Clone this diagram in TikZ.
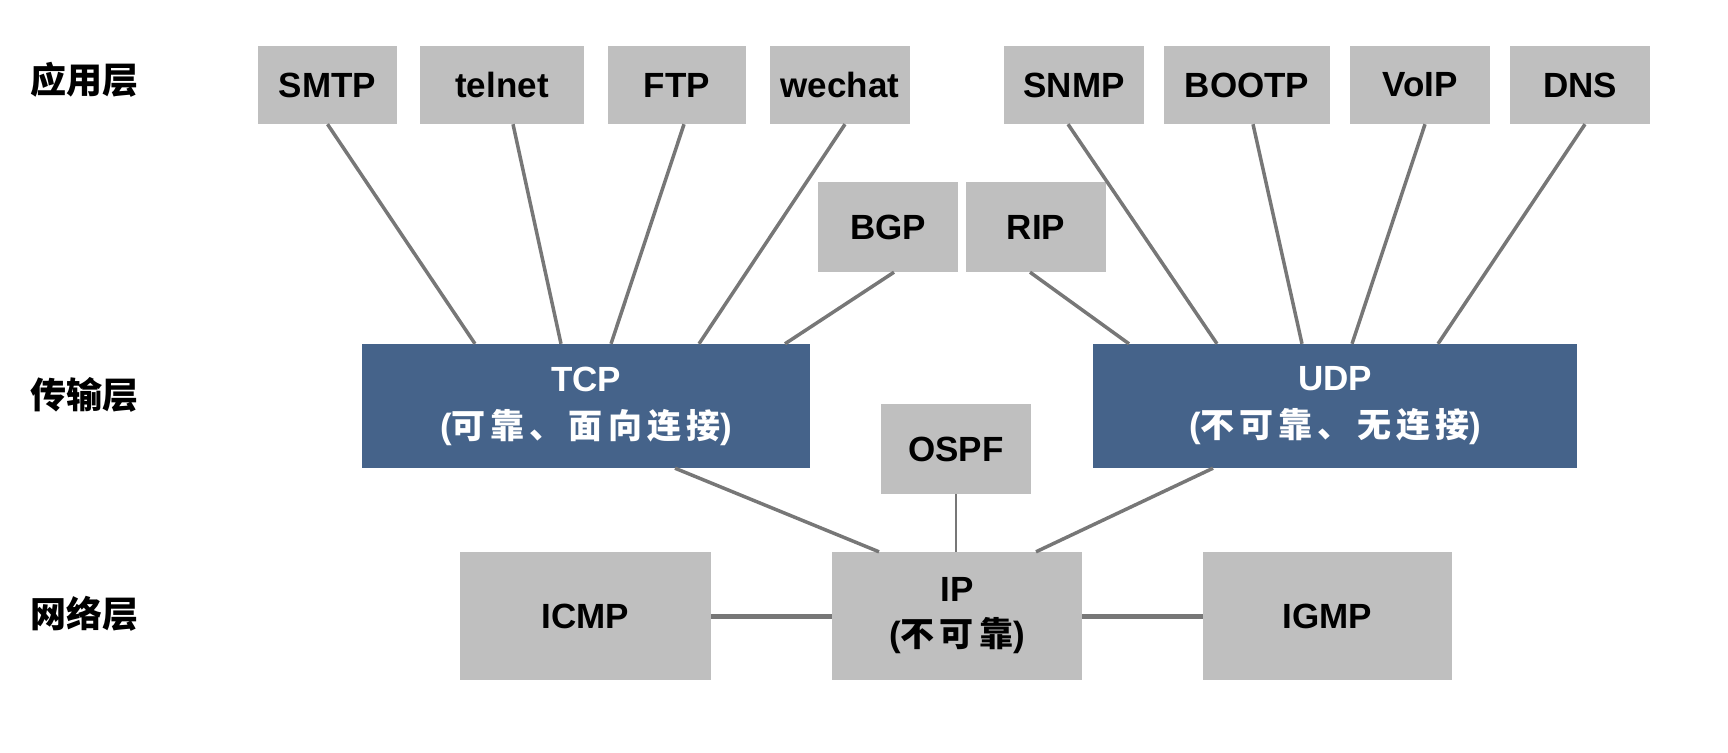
\documentclass[tikz,border=0pt]{standalone}
\usepackage{fontspec}
\setmainfont{Liberation Sans}
\newfontfamily\cjk[LetterSpace=15]{Noto Sans CJK SC}
\newfontfamily\cjkhead{Noto Sans CJK SC}
\usetikzlibrary{calc}
\definecolor{boxgray}{HTML}{BFBFBF}
\definecolor{tcpblue}{HTML}{45638A}
\definecolor{linegray}{HTML}{777777}
\newcommand\cn[1]{{\cjk\fontsize{34}{47}\selectfont #1}}
\tikzset{
	proto/.style={fill=boxgray, minimum width=140, minimum height=78, inner sep=0pt, align=center, font=\bfseries\fontsize{35}{47}\selectfont},
	trans/.style={proto, fill=tcpblue, text=white, minimum height=124},
	layer/.style={font=\cjkhead\bfseries\fontsize{36}{40}\selectfont},
	link/.style={draw=linegray, line width=3.5pt},
}

\begin{document}
\begin{tikzpicture}[x=1pt,y=-1pt]
	\useasboundingbox (0,0) rectangle (1728,752);
	% layers
	\node[layer] (app) at (84,80) {应用层};
	\node[layer] (trp) at (84,395) {传输层};
	\node[layer] (net) at (84,614) {网络层};
	% application
	\node[proto, minimum width=139] (SMTP) at (327.5,85) {SMTP};
	\node[proto, minimum width=164] (telnet) at (502,85) {telnet};
	\node[proto, minimum width=138] (FTP) at (677,85) {FTP};
	\node[proto] (wechat) at (840,85) {wechat};
	\node[proto] (SNMP) at (1074,85) {SNMP};
	\node[proto, minimum width=166] (BOOTP) at (1247,85) {BOOTP};
	\node[proto] (VoIP) at (1420,85) {VoIP};
	\node[proto] (DNS) at (1580,85) {DNS};
	\node[proto, minimum height=90] (BGP) at (888,227) {BGP};
	\node[proto, minimum height=90] (RIP) at (1036,227) {RIP};
	% transport
	\node[trans, minimum width=448] (TCP) at (586,406) {TCP\\(\cn{可靠、面向连接})};
	\node[trans, minimum width=484] (UDP) at (1335,406) {UDP\\(\cn{不可靠、无连接})};
	\node[proto, minimum width=150, minimum height=90] (OSPF) at (956,449) {OSPF};
	% network
	\node[proto, minimum width=251, minimum height=128] (ICMP) at (585.5,616) {ICMP};
	\node[proto, minimum width=250, minimum height=128] (IP) at (957,616) {IP\\[-2pt](\cn{不可靠})};
	\node[proto, minimum width=249, minimum height=128] (IGMP) at (1327.5,616) {IGMP};
	% links
	\draw[link] (SMTP.south) -- ($(TCP.north)+(-111,0)$);
	\draw[link] ($(telnet.south)+(11,0)$) -- ($(TCP.north)+(-25,0)$);
	\draw[link] ($(FTP.south)+(7,0)$) -- ($(TCP.north)+(25,0)$);
	\draw[link] ($(wechat.south)+(5,0)$) -- ($(TCP.north)+(113,0)$);
	\draw[link] ($(BGP.south)+(6,0)$) -- ($(TCP.north)+(199,0)$);
	\draw[link] ($(RIP.south)+(-6,0)$) -- ($(UDP.north)+(-206,0)$);
	\draw[link] ($(SNMP.south)+(-6,0)$) -- ($(UDP.north)+(-118,0)$);
	\draw[link] ($(BOOTP.south)+(6,0)$) -- ($(UDP.north)+(-33,0)$);
	\draw[link] ($(VoIP.south)+(5,0)$) -- ($(UDP.north)+(17,0)$);
	\draw[link] ($(DNS.south)+(5,0)$) -- ($(UDP.north)+(103,0)$);
	\draw[link] ($(TCP.south)+(89,0)$) -- ($(IP.north)+(-78,0)$);
	\draw[link] ($(UDP.south)+(-122,0)$) -- ($(IP.north)+(79,0)$);
	\draw[link, line width=2pt] (OSPF.south) -- (IP.north -| OSPF.south);
	\draw[link, line width=5pt] (ICMP.east) -- (IP.west);
	\draw[link, line width=5pt] (IP.east) -- (IGMP.west);
\end{tikzpicture}
\end{document}
